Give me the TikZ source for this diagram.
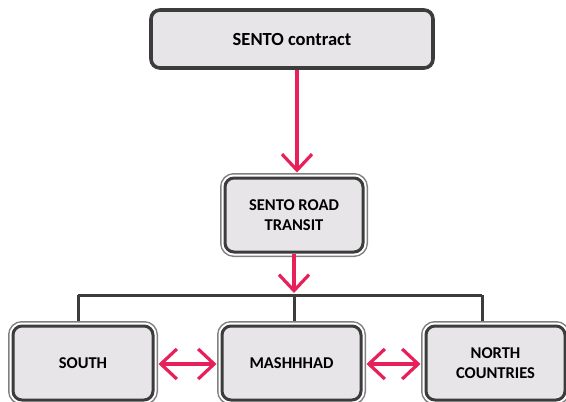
\documentclass[tikz,border=0pt]{standalone}
\usepackage{fontspec}
\setmainfont{Carlito}
\usetikzlibrary{arrows.meta}
\definecolor{boxfill}{RGB}{231,229,231}
\definecolor{boxline}{RGB}{60,60,60}
\definecolor{linkred}{RGB}{232,32,90}
\tikzset{
  box/.style={rectangle,rounded corners=9pt,fill=boxfill,draw=boxline,line width=3pt,
    align=center,inner sep=0pt,font=\bfseries\fontsize{16.5}{20}\selectfont},
  framed/.style={box,preaction={draw=black!50,line width=10pt},preaction={draw=white,line width=7pt}},
  barb/.tip={Straight Barb[length=16pt,width=30pt,line cap=butt]},
  link/.style={draw=linkred,line width=3.2pt,-barb},
  twoway/.style={draw=linkred,line width=3.2pt,barb-barb,shorten <=4pt,shorten >=4pt},
  bus/.style={draw=boxline,line width=3pt}
}
\begin{document}
\begin{tikzpicture}[x=1pt,y=-1pt]
\useasboundingbox (0,0) rectangle (566,402);
\node[box,line width=3.6pt,minimum width=282pt,minimum height=58pt,font=\bfseries\fontsize{18.5}{22}\selectfont] (contract) at (292,39) {SENTO contract};
\node[framed,minimum width=138pt,minimum height=74pt] (transit) at (294,215) {SENTO ROAD\\TRANSIT};
\node[framed,minimum width=140pt,minimum height=74pt] (south) at (83,363) {SOUTH};
\node[framed,minimum width=139pt,minimum height=74pt] (mashhad) at (291.5,363) {MASHHHAD};
\node[framed,minimum width=139pt,minimum height=74pt] (north) at (495.5,363) {NORTH\\COUNTRIES};
% joins
\coordinate (busmid) at (294,295);
\coordinate (busleft) at (78,295);
\coordinate (busright) at (482,295);
\draw[bus] (busleft) -- (busright);
\draw[bus,shorten >=4pt] (busleft) -- (busleft |- south.north);
\draw[bus,shorten >=4pt] (busmid) -- (busmid |- mashhad.north);
\draw[bus,shorten >=4pt] (busright) -- (busright |- north.north);
\draw[link,shorten >=4pt] ([xshift=3pt]transit.north |- contract.south) -- ([xshift=3pt]transit.north);
\draw[link,shorten >=2pt] (transit.south) -- (busmid);
\draw[twoway] ([yshift=-1pt]south.east) -- ([yshift=-1pt]mashhad.west);
\draw[twoway] ([yshift=-1pt]mashhad.east) -- ([yshift=-1pt]north.west);
\end{tikzpicture}
\end{document}
